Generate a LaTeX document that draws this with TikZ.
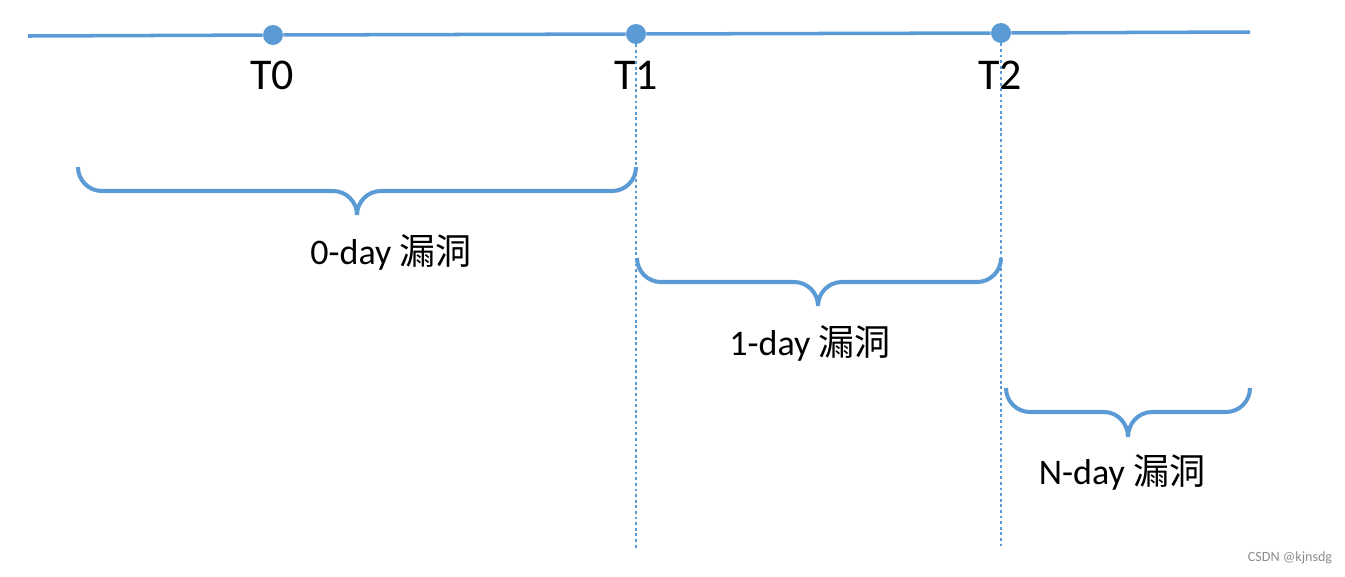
\documentclass[tikz,border=0pt]{standalone}
\usepackage{fontspec}
\setmainfont{Carlito}
\newfontfamily\cjk{Noto Sans CJK SC}
\usepackage{xcolor}
\usetikzlibrary{positioning}
\definecolor{lineblue}{HTML}{5B9BD5}

\begin{document}
\begin{tikzpicture}[
  x=0.02cm, y=-0.02cm,
  axis/.style={draw=lineblue, line width=2pt},
  tick/.style={circle, fill=lineblue, inner sep=0pt, minimum size=0.4cm},
  tlbl/.style={font=\fontsize{25}{29}\selectfont, inner sep=0pt},
  guide/.style={draw=lineblue, line width=1.3pt, dash pattern=on 1.6pt off 1.6pt},
  brc/.style={draw=lineblue, line width=2.3pt},
  lbl/.style={font=\fontsize{20.5}{24}\selectfont, inner sep=0pt},
]
\useasboundingbox (0,0) rectangle (1345,576);
% time axis
\coordinate (lend) at (28,36);
\coordinate (rend) at (1250,32);
\node[tick] (t0) at (273,35) {};
\node[tick] (t1) at (636,34) {};
\node[tick] (t2) at (1001,33) {};
\draw[axis] (lend) -- (t0) -- (t1) -- (t2) -- (rend);
\node[tlbl] (t0lbl) at (272,75) {T0};
\node[tlbl] (t1lbl) at (636,75) {T1};
\node[tlbl] (t2lbl) at (1000,75) {T2};
% guides
\coordinate (t1end) at (636,548);
\coordinate (t2end) at (1001,546);
\draw[guide] (t1.south) -- (t1end);
\draw[guide] (t2.south) -- (t2end);
% braces
\draw[brc] (78,167) to[out=-90,in=180] (102,191) -- (333,191) to[out=0,in=90] (357,215)
  to[out=90,in=180] (381,191) -- (612,191) to[out=0,in=-90] (636,167);
\draw[brc] (637,258) to[out=-90,in=180] (661,282) -- (794,282) to[out=0,in=90] (818,306)
  to[out=90,in=180] (842,282) -- (977,282) to[out=0,in=-90] (1001,258);
\draw[brc] (1006,388) to[out=-90,in=180] (1030,412) -- (1104,412) to[out=0,in=90] (1128,437)
  to[out=90,in=180] (1152,412) -- (1226,412) to[out=0,in=-90] (1250,388);
% labels
\node[lbl] (zero) at (391,252) {0-day {\cjk 漏洞}};
\node[lbl] (one)  at (810,343) {1-day {\cjk 漏洞}};
\node[lbl] (nday) at (1122,472) {N-day {\cjk 漏洞}};
\node[font=\fontsize{8}{10}\selectfont, text=black!45] (mark) at (1290,558) {CSDN @kjnsdg};
\end{tikzpicture}
\end{document}
